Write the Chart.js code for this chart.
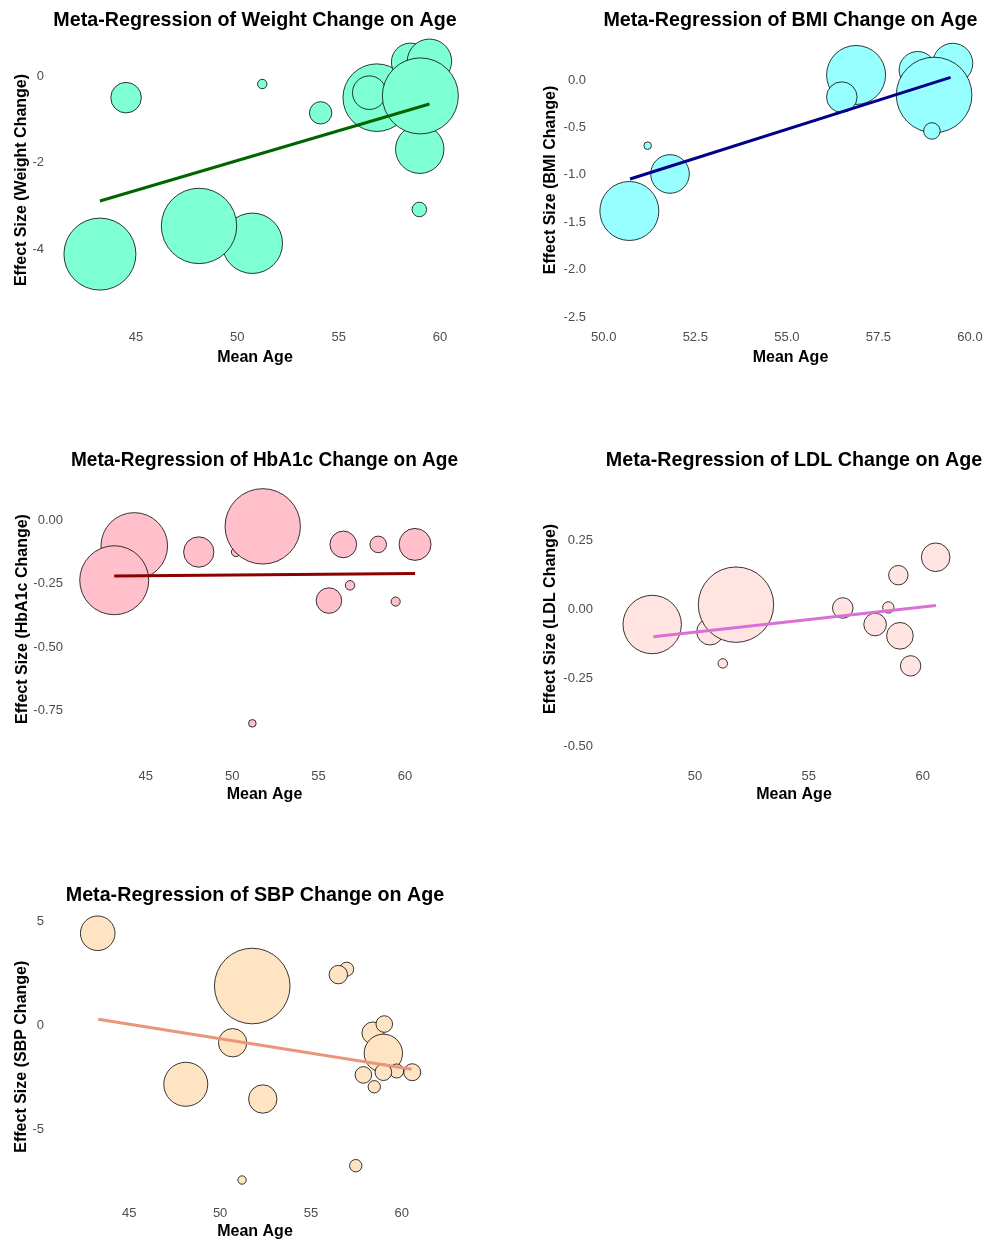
<!DOCTYPE html>
<html>
<head>
<meta charset="utf-8">
<script src="https://cdn.jsdelivr.net/npm/chart.js@4.4.1/dist/chart.umd.min.js"></script>
<style>
  html, body { margin: 0; padding: 0; background: #ffffff; width: 987px; height: 1244px; overflow: hidden; position: relative; }
  canvas { position: absolute; }
</style>
</head>
<body>
<canvas id="cWeight"></canvas>
<canvas id="cBmi"></canvas>
<canvas id="cHba1c"></canvas>
<canvas id="cLdl"></canvas>
<canvas id="cSbp"></canvas>
<script>
// ---- Study-level data: mean age, effect size and study weight ----
const weightAge    = [43.22, 44.51, 51.23, 54.11, 50.74, 48.11, 56.88, 56.51, 58.98, 59.00, 58.54, 59.48, 59.03];
const weightEffect = [-4.11, -0.50, -0.185, -0.85, -3.86, -3.46, -0.50, -0.385, -3.08, -1.69, 0.32, 0.34, -0.46];
const weightWeight = [81, 14.6, 1.4, 7.8, 57, 88.8, 71.4, 17.6, 3.3, 36.6, 22.6, 30.8, 90.3];
const weightFitAge    = [43.22, 59.48];
const weightFitEffect = [-2.885, -0.646];
const weightXTicks = [45, 50, 55, 60];
const weightYTicks = [-4, -2, 0];

const bmiAge    = [50.70, 51.20, 51.81, 56.89, 56.50, 58.57, 59.53, 59.02, 58.96];
const bmiEffect = [-1.38, -0.692, -0.99, 0.053, -0.18, 0.105, 0.176, -0.158, -0.537];
const bmiWeight = [54.4, 0.9, 23.3, 54.4, 14.6, 21.4, 25, 89.3, 4.3];
const bmiFitAge    = [50.72, 59.47];
const bmiFitEffect = [-1.043, 0.028];
const bmiXTicks = [50, 52.5, 55, 57.5, 60];
const bmiYTicks = [-2.5, -2, -1.5, -1, -0.5, 0];

const hba1cAge    = [44.34, 43.18, 48.07, 50.22, 51.77, 56.43, 58.45, 60.58, 55.60, 56.82, 59.46, 51.17];
const hba1cEffect = [-0.102, -0.237, -0.126, -0.126, -0.025, -0.096, -0.096, -0.096, -0.317, -0.257, -0.321, -0.80];
const hba1cWeight = [69.3, 74.4, 14.4, 1.3, 88.8, 11.1, 4.3, 16, 10.2, 1.4, 1.3, 0.9];
const hba1cFitAge    = [43.18, 60.58];
const hba1cFitEffect = [-0.220, -0.210];
const hba1cXTicks = [45, 50, 55, 60];
const hba1cYTicks = [-0.75, -0.5, -0.25, 0];

const ldlAge    = [48.12, 50.66, 51.80, 51.22, 56.49, 58.49, 57.91, 58.93, 59.00, 59.47, 60.57];
const ldlEffect = [-0.056, -0.082, 0.016, -0.197, 0.004, 0.006, -0.056, 0.123, -0.097, -0.206, 0.188];
const ldlWeight = [53.3, 11.1, 88.8, 1.4, 6.6, 2.0, 8.0, 5.9, 11.1, 6.5, 12.8];
const ldlFitAge    = [48.17, 60.58];
const ldlFitEffect = [-0.100, 0.013];
const ldlXTicks = [50, 55, 60];
const ldlYTicks = [-0.5, -0.25, 0, 0.25];

const sbpAge    = [43.26, 51.77, 56.97, 56.51, 50.69, 48.11, 52.35, 51.21, 57.47, 58.42, 59.04, 58.99, 57.89, 58.49, 59.72, 58.99, 60.58];
const sbpEffect = [4.45, 1.91, 2.72, 2.46, -0.82, -2.82, -3.53, -7.43, -6.74, -0.35, 0.08, -1.33, -2.37, -2.94, -2.18, -2.24, -2.24];
const sbpWeight = [18.7, 89.3, 3.1, 5.3, 12.6, 30.3, 12.6, 1.1, 2.4, 7.6, 4.3, 23.0, 4.3, 2.4, 3.1, 4.3, 4.5];
const sbpFitAge    = [43.29, 60.55];
const sbpFitEffect = [0.31, -2.10];
const sbpXTicks = [45, 50, 55, 60];
const sbpYTicks = [-5, 0, 5];

// Bubble area proportional to study weight
const bubbleRadius = w => 4 * Math.sqrt(w);

Chart.defaults.font.family = "'Liberation Sans', Arial, Helvetica, sans-serif";

const panels = [
  { id: 'cWeight', left: 0, top: 0, width: 470, height: 385,
    title: 'Meta-Regression of Weight Change on Age', yTitle: 'Effect Size (Weight Change)',
    ages: weightAge, effects: weightEffect, weights: weightWeight,
    fitAge: weightFitAge, fitEffect: weightFitEffect, xTicks: weightXTicks, yTicks: weightYTicks,
    xDec: 0, yDec: 0, fill: '#7FFFD4', line: '#006400',
    xMin: 40.855, xMax: 60.888, yMin: -5.746, yMax: 0.946,
    yAxisW: 52, padRight: 12, xAxisH: 60, titlePad: { top: 9.2, bottom: 2.16 }, xTitlePadB: 17.9, yTitlePadT: 12 },
  { id: 'cBmi', left: 530, top: 0, width: 470, height: 385,
    title: 'Meta-Regression of BMI Change on Age', yTitle: 'Effect Size (BMI Change)',
    ages: bmiAge, effects: bmiEffect, weights: bmiWeight,
    fitAge: bmiFitAge, fitEffect: bmiFitEffect, xTicks: bmiXTicks, yTicks: bmiYTicks,
    xDec: 1, yDec: 1, fill: '#97FFFF', line: '#00008B',
    xMin: 49.735, xMax: 60.464, yMin: -2.581, yMax: 0.474,
    yAxisW: 64, padRight: 13, xAxisH: 60, titlePad: { top: 9.2, bottom: 2.16 }, xTitlePadB: 17.9, yTitlePadT: 10.9 },
  { id: 'cHba1c', left: 0, top: 440, width: 470, height: 384,
    title: 'Meta-Regression of HbA1c Change on Age', yTitle: 'Effect Size (HbA1c Change)',
    ages: hba1cAge, effects: hba1cEffect, weights: hba1cWeight,
    fitAge: hba1cFitAge, fitEffect: hba1cFitEffect, xTicks: hba1cXTicks, yTicks: hba1cYTicks,
    xDec: 0, yDec: 2, fill: '#FFC0CB', line: '#8B0000',
    xMin: 40.68, xMax: 63.065, yMin: -0.960, yMax: 0.181,
    yAxisW: 71, padRight: 12, xAxisH: 60, titlePad: { top: 9, bottom: 1.36 }, xTitlePadB: 20, yTitlePadT: 12.5 },
  { id: 'cLdl', left: 530, top: 440, width: 470, height: 384,
    title: 'Meta-Regression of LDL Change on Age', yTitle: 'Effect Size (LDL Change)',
    ages: ldlAge, effects: ldlEffect, weights: ldlWeight,
    fitAge: ldlFitAge, fitEffect: ldlFitEffect, xTicks: ldlXTicks, yTicks: ldlYTicks,
    xDec: 0, yDec: 2, fill: '#FFE4E1', line: '#DA70D6',
    xMin: 45.872, xMax: 62.824, yMin: -0.562, yMax: 0.490,
    yAxisW: 71, padRight: 13, xAxisH: 60, titlePad: { top: 9, bottom: 1.36 }, xTitlePadB: 20, yTitlePadT: 10.9 },
  { id: 'cSbp', left: 0, top: 878, width: 470, height: 366,
    title: 'Meta-Regression of SBP Change on Age', yTitle: 'Effect Size (SBP Change)',
    ages: sbpAge, effects: sbpEffect, weights: sbpWeight,
    fitAge: sbpFitAge, fitEffect: sbpFitEffect, xTicks: sbpXTicks, yTicks: sbpYTicks,
    xDec: 0, yDec: 0, fill: '#FFE4C4', line: '#E9967A',
    xMin: 40.743, xMax: 63.1, yMin: -8.44, yMax: 5.455,
    yAxisW: 52, padRight: 12, xAxisH: 43, titlePad: { top: 6, bottom: 4.76 }, xTitlePadB: 2.4, yTitlePadT: 12.4 }
];

const tickColor = '#4D4D4D';

function drawPanel(p) {
  const canvas = document.getElementById(p.id);
  canvas.width = p.width;
  canvas.height = p.height;
  canvas.style.left = p.left + 'px';
  canvas.style.top = p.top + 'px';
  canvas.style.width = p.width + 'px';
  canvas.style.height = p.height + 'px';

  const bubbles = p.ages.map((a, i) => ({ x: a, y: p.effects[i], r: bubbleRadius(p.weights[i]) }));
  const fit = p.fitAge.map((a, i) => ({ x: a, y: p.fitEffect[i] }));

  new Chart(canvas, {
    type: 'bubble',
    data: {
      datasets: [
        { type: 'line', data: fit, borderColor: p.line, borderWidth: 3, borderCapStyle: 'butt',
          pointRadius: 0, fill: false, tension: 0, order: 0, clip: false },
        { type: 'bubble', data: bubbles, backgroundColor: p.fill, borderColor: 'rgba(0,0,0,0.78)',
          borderWidth: 1, order: 1, clip: false }
      ]
    },
    options: {
      responsive: false,
      animation: false,
      devicePixelRatio: 1,
      events: [],
      layout: { autoPadding: false, padding: { left: 0, right: p.padRight, top: 0, bottom: 0 } },
      plugins: {
        legend: { display: false },
        tooltip: { enabled: false },
        title: {
          display: true, text: p.title, fullSize: false, color: '#000000',
          font: { size: 19.7, weight: 'bold', lineHeight: 1.2 },
          padding: p.titlePad
        }
      },
      scales: {
        x: {
          type: 'linear', position: 'bottom', min: p.xMin, max: p.xMax,
          grid: { display: false, drawTicks: false }, border: { display: false },
          afterBuildTicks: s => { s.ticks = p.xTicks.map(v => ({ value: v })); },
          afterFit: s => { s.height = p.xAxisH; },
          ticks: { color: tickColor, font: { size: 13 }, padding: 4.5, maxRotation: 0,
                   callback: v => Number(v).toFixed(p.xDec) },
          title: { display: true, text: 'Mean Age', color: '#000000',
                   font: { size: 16, weight: 'bold', lineHeight: 1.2 },
                   padding: { top: 0, bottom: p.xTitlePadB } }
        },
        y: {
          type: 'linear', position: 'left', min: p.yMin, max: p.yMax,
          grid: { display: false, drawTicks: false }, border: { display: false },
          afterBuildTicks: s => { s.ticks = p.yTicks.map(v => ({ value: v })); },
          afterFit: s => { s.width = p.yAxisW; },
          ticks: { color: tickColor, font: { size: 13 }, padding: 8,
                   callback: v => Number(v).toFixed(p.yDec) },
          title: { display: true, text: p.yTitle, color: '#000000',
                   font: { size: 16, weight: 'bold', lineHeight: 1.2 },
                   padding: { top: p.yTitlePadT, bottom: 0 } }
        }
      }
    }
  });
}

panels.forEach(drawPanel);
</script>
</body>
</html>
